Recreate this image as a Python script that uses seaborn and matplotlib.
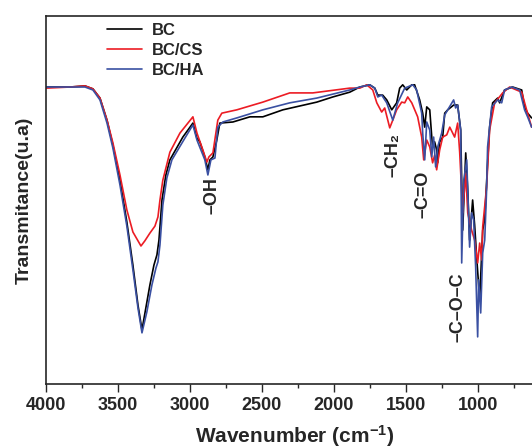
import seaborn as sns
import pandas as pd
import matplotlib.pyplot as plt
from matplotlib.ticker import MultipleLocator

sns.set_theme(context='paper', style='ticks')
plt.rcParams['font.family'] = ['Liberation Sans', 'DejaVu Sans']
plt.rcParams['font.weight'] = 'bold'
plt.rcParams['mathtext.fontset'] = 'custom'
plt.rcParams['mathtext.rm'] = 'Liberation Sans:bold'
plt.rcParams['mathtext.bf'] = 'Liberation Sans:bold'
plt.rcParams['mathtext.default'] = 'bf'

# FTIR spectra (wavenumber in cm-1, transmittance in a.u.)
wn_bc = [4000, 3833, 3729, 3674, 3625, 3576, 3535, 3486, 3438, 3396, 3361, 3333,
         3306, 3278, 3250, 3229, 3215, 3194, 3167, 3139, 3049, 2979, 2951, 2931,
         2896, 2875, 2861, 2840, 2813, 2792, 2701, 2583, 2493, 2354, 2118, 2007,
         1889, 1819, 1750, 1715, 1694, 1660, 1632, 1597, 1563, 1542, 1521, 1493,
         1458, 1438, 1403, 1382, 1368, 1354, 1333, 1319, 1313, 1299, 1285, 1278,
         1264, 1243, 1229, 1208, 1167, 1139, 1118, 1104, 1083, 1069, 1056, 1035,
         1021, 1007, 986, 965, 951, 931, 917, 896, 861, 847, 813, 757, 694, 674,
         653, 625]
t_bc = [80.7, 80.7, 81.0, 80.2, 77.7, 71.7, 64.9, 55.4, 44.0, 32.3, 21.5, 14.7,
        20.7, 26.9, 32.3, 35.1, 39.1, 50.0, 56.8, 60.9, 67.1, 70.9, 66.8, 65.8,
        61.7, 58.2, 60.9, 61.7, 66.3, 70.9, 71.2, 72.6, 72.6, 74.5, 76.6, 78.0,
        79.3, 80.7, 81.3, 80.4, 78.5, 78.5, 77.2, 74.5, 76.4, 80.4, 81.3, 79.9,
        81.3, 81.3, 77.2, 73.6, 69.8, 75.3, 74.5, 67.1, 64.4, 65.8, 63.6, 60.1,
        65.8, 67.1, 73.6, 74.5, 75.8, 75.8, 69.0, 41.8, 62.8, 52.7, 39.1, 50.0,
        43.2, 34.5, 22.8, 41.8, 44.6, 60.1, 69.8, 76.4, 77.7, 76.4, 79.9, 80.7,
        79.9, 75.3, 73.6, 72.3]

wn_cs = [4000, 3833, 3729, 3674, 3625, 3576, 3535, 3486, 3438, 3396, 3340, 3313,
         3278, 3243, 3222, 3208, 3188, 3139, 3069, 2979, 2951, 2910, 2882, 2868,
         2840, 2806, 2778, 2674, 2493, 2306, 2146, 1889, 1819, 1771, 1729, 1701,
         1667, 1646, 1611, 1590, 1563, 1528, 1507, 1486, 1458, 1417, 1389, 1375,
         1354, 1333, 1313, 1299, 1285, 1264, 1243, 1215, 1194, 1160, 1139, 1125,
         1104, 1083, 1069, 1042, 1021, 1000, 986, 972, 965, 938, 917, 882, 826,
         778, 694, 660, 625]
t_cs = [80.4, 80.7, 81.0, 80.2, 77.7, 71.7, 65.5, 56.8, 47.3, 41.3, 37.5, 38.9,
        41.0, 42.9, 45.4, 50.0, 55.4, 63.0, 68.2, 72.6, 68.2, 63.6, 60.3, 61.7,
        62.8, 71.7, 73.6, 74.5, 76.6, 79.1, 79.1, 80.4, 80.4, 81.3, 79.9, 76.4,
        73.9, 75.0, 69.6, 71.7, 74.5, 76.6, 76.4, 78.0, 76.4, 72.6, 67.1, 60.9,
        66.3, 64.4, 60.1, 62.2, 58.2, 63.6, 67.1, 67.7, 69.8, 67.1, 70.9, 63.0,
        46.5, 57.3, 46.5, 41.8, 39.1, 32.9, 38.3, 33.7, 42.7, 53.5, 69.0, 76.4,
        79.1, 80.7, 79.3, 74.5, 69.8]

wn_ha = [4000, 3833, 3729, 3674, 3625, 3576, 3535, 3486, 3438, 3396, 3361, 3333,
         3299, 3264, 3236, 3222, 3208, 3188, 3160, 3125, 3035, 2979, 2951, 2896,
         2875, 2854, 2826, 2806, 2771, 2674, 2493, 2306, 2118, 1889, 1819, 1750,
         1715, 1694, 1667, 1632, 1590, 1556, 1507, 1451, 1424, 1389, 1382, 1368,
         1354, 1333, 1319, 1306, 1292, 1278, 1250, 1229, 1208, 1167, 1153, 1139,
         1118, 1111, 1097, 1076, 1056, 1042, 1028, 1014, 1000, 993, 979, 965, 951,
         938, 931, 903, 861, 833, 813, 764, 708, 674, 653, 625]
t_ha = [80.7, 80.7, 80.7, 79.9, 77.2, 70.9, 64.1, 54.1, 42.9, 31.0, 20.7, 13.9,
        19.6, 26.9, 31.5, 33.2, 37.8, 48.6, 56.0, 60.9, 66.8, 70.4, 66.3, 60.9,
        56.8, 60.9, 61.4, 69.8, 71.2, 72.3, 74.5, 76.4, 77.7, 79.9, 80.7, 81.3,
        80.4, 78.0, 78.5, 76.4, 71.7, 76.4, 80.4, 81.3, 79.9, 73.6, 68.2, 60.9,
        71.2, 69.0, 61.7, 67.1, 59.0, 64.4, 68.2, 73.1, 74.5, 77.2, 75.0, 75.8,
        69.0, 32.9, 55.4, 60.9, 37.2, 46.5, 44.6, 31.8, 12.8, 28.3, 19.3, 35.6,
        39.1, 52.7, 64.4, 75.3, 77.2, 76.4, 79.9, 80.7, 79.9, 74.5, 72.6, 69.8]

samples = ['BC', 'BC/CS', 'BC/HA']
colors = {'BC': 'black', 'BC/CS': '#ec1c24', 'BC/HA': '#3a50a2'}
xticks = [4000, 3500, 3000, 2500, 2000, 1500, 1000]

# band assignments: (label, wavenumber, transmittance)
bands = [('–OH', 2847, 51.1), ('–CH₂', 1590, 62.2),
         ('–C=O', 1382, 51.6), ('–C–O–C', 1139, 20.9)]

data = pd.concat([
    pd.DataFrame({'Wavenumber': wn_bc, 'T': t_bc, 'Sample': 'BC'}),
    pd.DataFrame({'Wavenumber': wn_cs, 'T': t_cs, 'Sample': 'BC/CS'}),
    pd.DataFrame({'Wavenumber': wn_ha, 'T': t_ha, 'Sample': 'BC/HA'}),
])

fig = plt.figure(figsize=(5.32, 4.48), dpi=100)
ax = fig.add_axes([46/532, 64/448, 518/532, 368/448])

sns.lineplot(data=data, x='Wavenumber', y='T', hue='Sample', hue_order=samples,
             palette=colors, estimator=None, sort=False, linewidth=1.2, ax=ax)

ax.set_xlim(4000, 400)
ax.set_ylim(0, 100)
ax.xaxis.set_minor_locator(MultipleLocator(250))
ax.set_xticks(xticks)
ax.set_yticks([])
ax.tick_params(axis='x', which='major', length=5.5, width=1, labelsize=13, pad=4)
ax.tick_params(axis='x', which='minor', length=3, width=1)
for s in ax.spines.values():
    s.set_linewidth(1.2)
ax.spines['right'].set_visible(False)

ax.set_xlabel('Wavenumber (cm$^{-1}$)', fontsize=15, fontweight='bold')
ax.xaxis.set_label_coords(0.48, -0.105)
ax.set_ylabel('Transmitance(u.a)', fontsize=14, fontweight='bold')
ax.yaxis.set_label_coords(-0.025, 0.5)

for label, wn, t in bands:
    ax.text(wn, t, label, rotation=90, ha='center', va='center',
            fontsize=13, fontweight='bold')

ax.legend(loc='upper left', bbox_to_anchor=(0.104, 1.0), borderaxespad=0,
          frameon=False, fontsize=12, handlelength=2.15, handletextpad=0.55,
          labelspacing=0.3)

fig.savefig('out.png', dpi=100)
